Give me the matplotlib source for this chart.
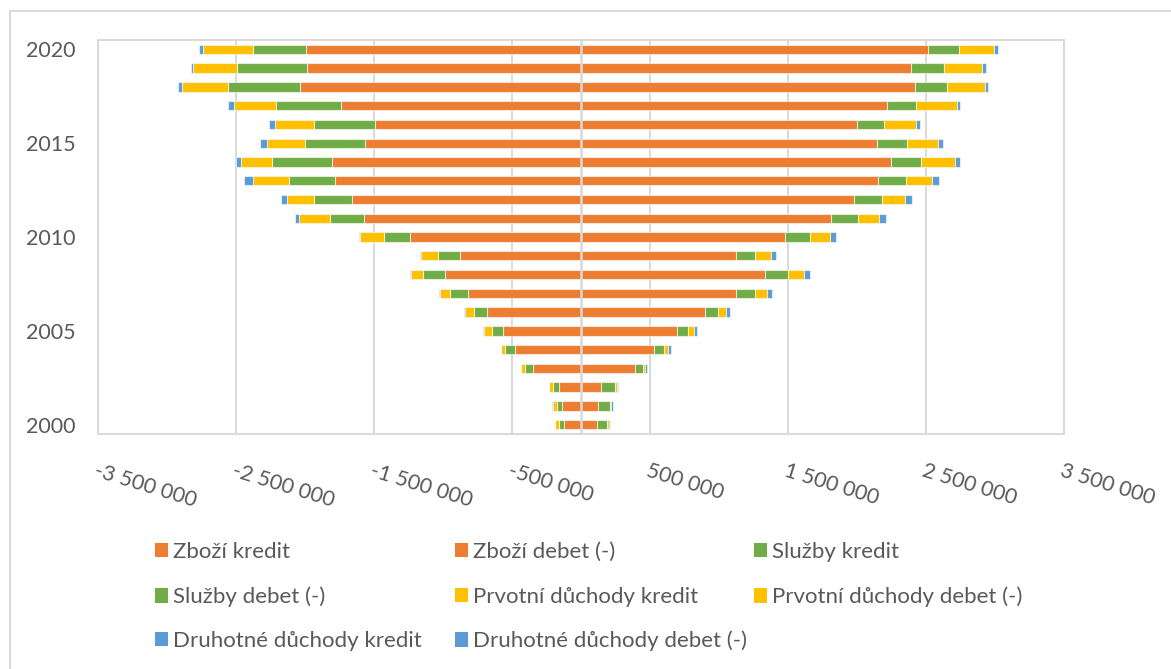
import matplotlib
matplotlib.use("Agg")
import matplotlib.pyplot as plt
from matplotlib.lines import Line2D
from matplotlib.patches import Patch

plt.rcParams['font.family'] = ['Lato', 'DejaVu Sans']

years = list(range(2000, 2021))

# platebni bilance, kredit kladne, debet zaporne
zbozi_kredit = [114000, 121000, 147000, 389000, 527000, 698000, 901000, 1125000, 1336000, 1121000, 1480000,
                1809000, 1978000, 2152000, 2246000, 2147000, 1998000, 2220000, 2420000, 2389000, 2512000]
zbozi_debet = [-121000, -140000, -162000, -350000, -478000, -563000, -679000, -817000, -988000, -879000, -1237000,
               -1575000, -1659000, -1785000, -1807000, -1563000, -1495000, -1737000, -2034000, -1988000, -1995000]
sluzby_kredit = [77000, 89000, 101000, 60000, 77000, 80000, 92000, 136000, 167000, 142000, 181000,
                 200000, 201000, 203000, 220000, 215000, 200000, 210000, 232000, 241000, 229000]
sluzby_debet = [-38000, -36000, -43000, -56000, -72000, -84000, -99000, -130000, -159000, -159000, -193000,
                -246000, -278000, -331000, -432000, -437000, -442000, -471000, -524000, -507000, -384000]
prvotni_kredit = [10000, 10000, 10000, 14000, 25000, 39000, 58000, 85000, 112000, 112000, 143000,
                  148000, 169000, 188000, 242000, 225000, 230000, 295000, 273000, 278000, 249000]
prvotni_debet = [-27000, -29000, -25000, -27000, -27000, -56000, -65000, -75000, -85000, -119000, -170000,
                 -220000, -191000, -263000, -222000, -275000, -283000, -307000, -333000, -317000, -358000]
druhotne_kredit = [9000, 10000, 12000, 17000, 24000, 26000, 29000, 41000, 48000, 41000, 46000,
                   53000, 49000, 53000, 41000, 36000, 29000, 24000, 26000, 25000, 31000]
druhotne_debet = [-3000, -3000, -2000, -3000, -3000, -7000, -4000, -7000, -9000, -10000, -9000,
                  -29000, -46000, -61000, -41000, -48000, -41000, -41000, -29000, -15000, -31000]

labels = ['Zboží kredit', 'Zboží debet (-)', 'Služby kredit', 'Služby debet (-)',
          'Prvotní důchody kredit', 'Prvotní důchody debet (-)',
          'Druhotné důchody kredit', 'Druhotné důchody debet (-)']
colors = ['#ED7D31', '#ED7D31', '#70AD47', '#70AD47', '#FFC000', '#FFC000', '#5B9BD5', '#5B9BD5']
series = [zbozi_kredit, zbozi_debet, sluzby_kredit, sluzby_debet,
          prvotni_kredit, prvotni_debet, druhotne_kredit, druhotne_debet]

xticks = [-3500000, -2500000, -1500000, -500000, 500000, 1500000, 2500000, 3500000]
yticks = [2000, 2005, 2010, 2015, 2020]

grey = '#D9D9D9'
txt = '#595959'
W, H = 1171, 669

fig = plt.figure(figsize=(W / 100, H / 100), dpi=100)
ax = fig.add_axes([98 / W, 1 - 434 / H, 966 / W, 394 / H])

pos = [0] * len(years)
neg = [0] * len(years)
handles = []
for vals, col, lab in zip(series, colors, labels):
    base = pos if vals[0] >= 0 else neg
    ax.barh(years, vals, left=base, height=0.5, color=col,
            edgecolor=(1, 1, 1, 0.6), linewidth=0.8, zorder=2)
    for i, v in enumerate(vals):
        base[i] += v
    handles.append(Patch(facecolor=col, label=lab))

ax.set_xlim(-3500000, 3500000)
ax.set_ylim(1999.5, 2020.5)
ax.set_xticks(xticks)
ax.set_xticklabels([f"{v:,}".replace(",", " ") for v in xticks],
                   rotation=-17, ha='left', va='top', rotation_mode='anchor')
ax.set_yticks(yticks)
ax.tick_params(axis='x', length=0, pad=19, labelsize=15.5, labelcolor=txt)
ax.tick_params(axis='y', length=0, pad=16, labelsize=15.5, labelcolor=txt)
ax.grid(axis='x', color=grey, linewidth=1.4, zorder=0)
ax.set_axisbelow(True)
for s in ax.spines.values():
    s.set_color(grey)
    s.set_linewidth(1.4)
ax.axvline(0, color=grey, linewidth=1.8, zorder=3)

# legenda: 3 sloupce, plneno po radcich
row_y = [552, 597, 641]
col_x = [155, 455, 754]
for k, h in enumerate(handles):
    r, c = divmod(k, 3)
    leg = fig.legend(handles=[h], loc='center left',
                     bbox_to_anchor=(col_x[c] / W, 1 - row_y[r] / H),
                     frameon=False, fontsize=16, labelcolor=txt,
                     handlelength=0.6, handleheight=0.6, handletextpad=0.2,
                     borderpad=0, borderaxespad=0)

# ramecek grafu
fig.add_artist(Line2D([10 / W, 1], [1 - 11 / H] * 2, color=grey, linewidth=1.4))
fig.add_artist(Line2D([10 / W] * 2, [0, 1 - 11 / H], color=grey, linewidth=1.4))

fig.savefig('out.png', dpi=100)
